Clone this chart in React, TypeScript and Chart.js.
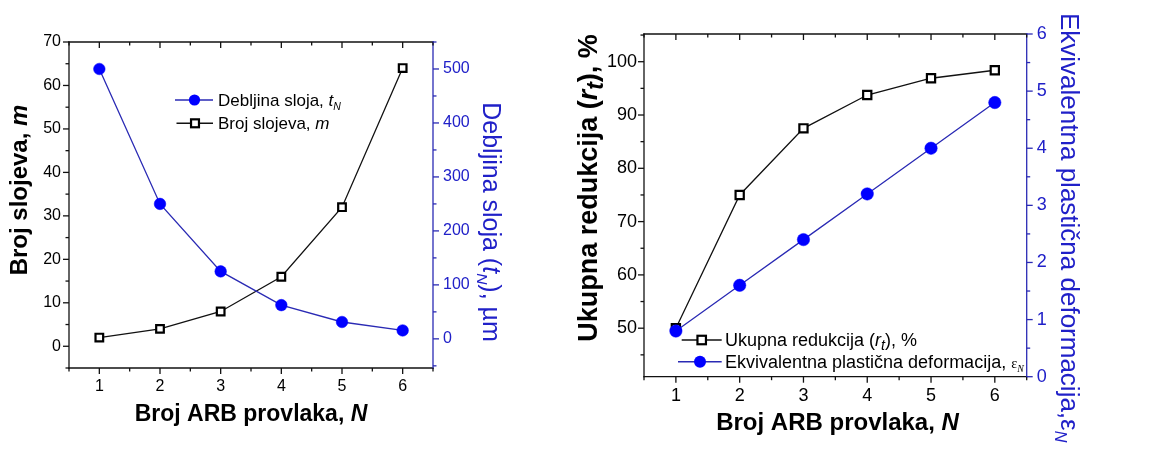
import React, { useEffect, useRef } from 'react';
import { Chart, registerables } from 'chart.js';

Chart.register(...registerables);

// ---------------- data ----------------
const passes = [1, 2, 3, 4, 5, 6];
const layerCount = [2, 4, 8, 16, 32, 64];
const layerThickness = [500, 250, 125, 62.5, 31.25, 15.6];
const totalReduction = [50, 75, 87.5, 93.75, 96.9, 98.4];
const equivStrain = [0.8, 1.6, 2.4, 3.2, 4.0, 4.8];

const passTicks = [1, 2, 3, 4, 5, 6];
const layerCountTicks = [0, 10, 20, 30, 40, 50, 60, 70];
const thicknessTicks = [0, 100, 200, 300, 400, 500];
const reductionTicks = [50, 60, 70, 80, 90, 100];
const strainTicks = [0, 1, 2, 3, 4, 5, 6];

type Seg = { t: string; it?: boolean; sub?: boolean; serif?: boolean; k?: number };

const passTitle: Seg[] = [{ t: 'Broj ARB provlaka, ' }, { t: 'N', it: true }];
const layerCountTitle: Seg[] = [{ t: 'Broj slojeva, ' }, { t: 'm', it: true }];
const thicknessTitle: Seg[] = [{ t: 'Debljina sloja (' }, { t: 't', it: true }, { t: 'N', it: true, sub: true }, { t: '), µm' }];
const reductionTitle: Seg[] = [{ t: 'Ukupna redukcija (' }, { t: 'r', it: true }, { t: 't', it: true, sub: true, k: 0.85 }, { t: '), %' }];
const strainTitle: Seg[] = [{ t: 'Ekvivalentna plastična deformacija,' }, { t: 'ε' }, { t: 'N', it: true, sub: true }];

const thicknessLegend: Seg[] = [{ t: 'Debljina sloja, ' }, { t: 't', it: true }, { t: 'N', it: true, sub: true }];
const layerCountLegend: Seg[] = [{ t: 'Broj slojeva, ' }, { t: 'm', it: true }];
const reductionLegend: Seg[] = [{ t: 'Ukupna redukcija (' }, { t: 'r', it: true }, { t: 't', it: true, sub: true, k: 0.8 }, { t: '), %' }];
const strainLegend: Seg[] = [{ t: 'Ekvivalentna plastična deformacija, ' }, { t: 'ε', serif: true, k: 0.8 }, { t: 'N', it: true, sub: true, serif: true, k: 0.55 }];

// ---------------- styles ----------------
const FONT = '"Liberation Sans", Arial, sans-serif';
const SERIF = '"Liberation Serif", "Times New Roman", serif';
const BLUE_LINE = '#2a2ab4';
const BLUE_MARK = '#0000ff';
const BLUE_TEXT = '#2020c8';
const BLACK = '#111111';

function segFont(s: Seg, size: number, bold: boolean) {
  const k = s.k ?? (s.sub ? 0.62 : 1);
  const sz = Math.round(size * k * 10) / 10;
  return `${s.it ? 'italic ' : ''}${bold ? 'bold ' : ''}${sz}px ${s.serif ? SERIF : FONT}`;
}

function drawRich(
  ctx: CanvasRenderingContext2D,
  segs: Seg[],
  x: number,
  y: number,
  o: { size: number; bold?: boolean; color: string; rot?: number; align?: 'center' | 'left' }
) {
  ctx.save();
  ctx.translate(x, y);
  ctx.rotate(o.rot || 0);
  ctx.fillStyle = o.color;
  ctx.textBaseline = 'alphabetic';
  ctx.textAlign = 'left';
  const widths = segs.map((s) => {
    ctx.font = segFont(s, o.size, !!o.bold);
    return ctx.measureText(s.t).width;
  });
  const total = widths.reduce((a, b) => a + b, 0);
  let cx = o.align === 'left' ? 0 : -total / 2;
  const base = o.size * 0.36;
  segs.forEach((s, i) => {
    ctx.font = segFont(s, o.size, !!o.bold);
    ctx.fillText(s.t, cx, s.sub ? base + o.size * 0.22 : base);
    cx += widths[i];
  });
  ctx.restore();
}

function minorsFor(majors: number[], min: number, max: number) {
  const step = majors[1] - majors[0];
  let v = majors[0] - step / 2;
  while (v - step >= min - 1e-9) v -= step;
  while (v < min - 1e-9) v += step;
  const out: number[] = [];
  for (; v <= max + 1e-9; v += step) out.push(v);
  return out;
}

function drawMarker(ctx: CanvasRenderingContext2D, kind: string, x: number, y: number, r: number) {
  if (kind === 'circle') {
    ctx.beginPath();
    ctx.arc(x, y, r, 0, Math.PI * 2);
    ctx.fillStyle = BLUE_MARK;
    ctx.fill();
  } else {
    const s = r * Math.SQRT1_2;
    ctx.fillStyle = '#fff';
    ctx.fillRect(x - s, y - s, 2 * s, 2 * s);
    ctx.lineWidth = 2.2;
    ctx.strokeStyle = '#000';
    ctx.strokeRect(x - s, y - s, 2 * s, 2 * s);
  }
}

type LegendItem = { segs: Seg[]; kind: string; color: string; y: number; x0: number; x1: number; mx: number; tx: number };
type TitleItem = { segs: Seg[]; x: number; y: number; size: number; bold?: boolean; color: string; rot?: number; align?: 'center' | 'left' };

type Panel = {
  W: number;
  H: number;
  area: { left: number; right: number; top: number; bottom: number };
  xRange: [number, number];
  yRange: [number, number];
  y1Range: [number, number];
  yTicks: number[];
  y1Ticks: number[];
  tickSize: number;
  padX: number;
  padY: number;
  padY1: number;
  datasets: any[];
  titles: TitleItem[];
  legend: LegendItem[];
  legendSize: number;
  markR: number;
};

function line(ctx: CanvasRenderingContext2D, x0: number, y0: number, x1: number, y1: number, c: string) {
  ctx.beginPath();
  ctx.moveTo(x0, y0);
  ctx.lineTo(x1, y1);
  ctx.strokeStyle = c;
  ctx.stroke();
}

function buildChart(canvas: HTMLCanvasElement, p: Panel) {
  const framePlugin = {
    id: 'frame',
    beforeDatasetsDraw(chart: any) {
      const { ctx, chartArea: a, scales } = chart;
      const sx = scales.x, sy = scales.y, sy1 = scales.y1;
      ctx.save();
      ctx.lineWidth = 1.3;
      ctx.lineCap = 'square';
      line(ctx, a.left, a.top, a.left, a.bottom, BLACK);
      line(ctx, a.left, a.bottom, a.right, a.bottom, BLACK);
      line(ctx, a.left, a.top, a.right, a.top, BLACK);
      line(ctx, a.right, a.top, a.right, a.bottom, BLUE_LINE);
      ctx.lineCap = 'butt';
      const MAJ = 6, MIN = 3.5;
      const xMin = minorsFor(passTicks, p.xRange[0], p.xRange[1]);
      passTicks.forEach((v) => {
        const px = sx.getPixelForValue(v);
        line(ctx, px, a.bottom, px, a.bottom + MAJ, BLACK);
        line(ctx, px, a.top, px, a.top + MAJ, BLACK);
      });
      xMin.forEach((v) => {
        const px = sx.getPixelForValue(v);
        line(ctx, px, a.bottom, px, a.bottom + MIN, BLACK);
        line(ctx, px, a.top, px, a.top + MIN, BLACK);
      });
      p.yTicks.forEach((v) => {
        const py = sy.getPixelForValue(v);
        line(ctx, a.left - MAJ, py, a.left, py, BLACK);
      });
      minorsFor(p.yTicks, p.yRange[0], p.yRange[1]).forEach((v) => {
        const py = sy.getPixelForValue(v);
        line(ctx, a.left - MIN, py, a.left, py, BLACK);
      });
      p.y1Ticks.forEach((v) => {
        const py = sy1.getPixelForValue(v);
        line(ctx, a.right, py, a.right + MAJ, py, BLUE_LINE);
      });
      minorsFor(p.y1Ticks, p.y1Range[0], p.y1Range[1]).forEach((v) => {
        const py = sy1.getPixelForValue(v);
        line(ctx, a.right, py, a.right + MIN, py, BLUE_LINE);
      });
      ctx.restore();
    },
    afterDraw(chart: any) {
      const { ctx } = chart;
      p.titles.forEach((t) =>
        drawRich(ctx, t.segs, t.x, t.y, { size: t.size, bold: t.bold, color: t.color, rot: t.rot, align: t.align })
      );
      p.legend.forEach((l) => {
        ctx.save();
        ctx.lineWidth = 1.4;
        line(ctx, l.x0, l.y, l.x1, l.y, l.color);
        drawMarker(ctx, l.kind, l.mx, l.y, p.markR);
        ctx.restore();
        drawRich(ctx, l.segs, l.tx, l.y, { size: p.legendSize, color: '#000', align: 'left' });
      });
    },
  };

  const tickFont = { family: FONT, size: p.tickSize };
  return new Chart(canvas, {
    type: 'line',
    data: { datasets: p.datasets },
    plugins: [framePlugin],
    options: {
      responsive: false,
      animation: false,
      layout: { padding: { top: p.area.top, left: 0, right: 0, bottom: 0 } },
      plugins: { legend: { display: false }, tooltip: { enabled: false } },
      elements: { line: { tension: 0 } },
      scales: {
        x: {
          type: 'linear',
          position: 'bottom',
          min: p.xRange[0],
          max: p.xRange[1],
          afterBuildTicks: (s: any) => {
            s.ticks = passTicks.map((v) => ({ value: v }));
          },
          afterFit: (s: any) => {
            s.height = p.H - p.area.bottom;
          },
          ticks: { font: tickFont, color: '#000', padding: p.padX, maxRotation: 0, autoSkip: false, callback: (v: any) => String(v) },
          grid: { display: false, drawTicks: false },
          border: { display: false },
        },
        y: {
          type: 'linear',
          position: 'left',
          min: p.yRange[0],
          max: p.yRange[1],
          afterBuildTicks: (s: any) => {
            s.ticks = p.yTicks.map((v) => ({ value: v }));
          },
          afterFit: (s: any) => {
            s.width = p.area.left;
          },
          ticks: { font: tickFont, color: '#000', padding: p.padY, autoSkip: false, callback: (v: any) => String(v) },
          grid: { display: false, drawTicks: false },
          border: { display: false },
        },
        y1: {
          type: 'linear',
          position: 'right',
          min: p.y1Range[0],
          max: p.y1Range[1],
          afterBuildTicks: (s: any) => {
            s.ticks = p.y1Ticks.map((v) => ({ value: v }));
          },
          afterFit: (s: any) => {
            s.width = p.W - p.area.right;
          },
          ticks: { font: tickFont, color: BLUE_TEXT, padding: p.padY1, autoSkip: false, callback: (v: any) => String(v) },
          grid: { display: false, drawTicks: false },
          border: { display: false },
        },
      },
    } as any,
  });
}

function blueSeries(values: number[], r: number) {
  return {
    data: passes.map((n, i) => ({ x: n, y: values[i] })),
    yAxisID: 'y1',
    borderColor: BLUE_LINE,
    borderWidth: 1.3,
    pointStyle: 'circle',
    pointRadius: r,
    pointBackgroundColor: BLUE_MARK,
    pointBorderColor: BLUE_MARK,
    pointBorderWidth: 0.5,
  };
}

function blackSeries(values: number[], r: number) {
  return {
    data: passes.map((n, i) => ({ x: n, y: values[i] })),
    yAxisID: 'y',
    borderColor: BLACK,
    borderWidth: 1.3,
    pointStyle: 'rect',
    pointRadius: r,
    pointBackgroundColor: '#ffffff',
    pointBorderColor: '#000000',
    pointBorderWidth: 2.2,
  };
}

const W1 = 575;
const W2 = 574;
const H = 454;

const leftPanel: Panel = {
  W: W1,
  H,
  area: { left: 69, right: 433, top: 42, bottom: 368 },
  xRange: [0.5, 6.5],
  yRange: [-5, 70],
  y1Range: [-54, 550],
  yTicks: layerCountTicks,
  y1Ticks: thicknessTicks,
  tickSize: 16,
  padX: 9,
  padY: 8,
  padY1: 10,
  datasets: [blueSeries(layerThickness, 5.8), blackSeries(layerCount, 5.4)],
  titles: [
    { segs: passTitle, x: 251, y: 413, size: 23, bold: true, color: '#000' },
    { segs: layerCountTitle, x: 18.5, y: 190, size: 24, bold: true, color: '#000', rot: -Math.PI / 2 },
    { segs: thicknessTitle, x: 491.5, y: 222, size: 25, color: BLUE_TEXT, rot: Math.PI / 2 },
  ],
  legend: [
    { segs: thicknessLegend, kind: 'circle', color: BLUE_LINE, y: 100, x0: 175, x1: 213, mx: 194.5, tx: 218 },
    { segs: layerCountLegend, kind: 'rect', color: BLACK, y: 123.3, x0: 176.5, x1: 213, mx: 195, tx: 218 },
  ],
  legendSize: 17,
  markR: 5.6,
};

const rightPanel: Panel = {
  W: W2,
  H,
  area: { left: 69, right: 451.7, top: 34, bottom: 376.7 },
  xRange: [0.5, 6.5],
  yRange: [40.9, 105.2],
  y1Range: [0, 6],
  yTicks: reductionTicks,
  y1Ticks: strainTicks,
  tickSize: 18,
  padX: 9,
  padY: 7,
  padY1: 10,
  datasets: [blueSeries(equivStrain, 6.2), blackSeries(totalReduction, 5.8)],
  titles: [
    { segs: passTitle, x: 262.5, y: 421.7, size: 24, bold: true, color: '#000' },
    { segs: reductionTitle, x: 12, y: 188, size: 27, bold: true, color: '#000', rot: -Math.PI / 2 },
    { segs: strainTitle, x: 495, y: 13, size: 26, color: BLUE_TEXT, rot: Math.PI / 2, align: 'left' },
  ],
  legend: [
    { segs: reductionLegend, kind: 'rect', color: BLACK, y: 340, x0: 106.7, x1: 146.7, mx: 126.7, tx: 150 },
    { segs: strainLegend, kind: 'circle', color: BLUE_LINE, y: 361.7, x0: 103, x1: 146.7, mx: 125, tx: 150 },
  ],
  legendSize: 18,
  markR: 6,
};

export default function App() {
  const leftRef = useRef<HTMLCanvasElement | null>(null);
  const rightRef = useRef<HTMLCanvasElement | null>(null);

  useEffect(() => {
    const c1 = buildChart(leftRef.current as HTMLCanvasElement, leftPanel);
    const c2 = buildChart(rightRef.current as HTMLCanvasElement, rightPanel);
    return () => {
      c1.destroy();
      c2.destroy();
    };
  }, []);

  return (
    <div style={{ position: 'absolute', left: 0, top: 0, width: 1149, height: 454, background: '#fff', overflow: 'hidden' }}>
      <canvas ref={leftRef} width={W1} height={H} style={{ position: 'absolute', left: 0, top: 0, width: W1, height: H }} />
      <canvas ref={rightRef} width={W2} height={H} style={{ position: 'absolute', left: W1, top: 0, width: W2, height: H }} />
    </div>
  );
}
